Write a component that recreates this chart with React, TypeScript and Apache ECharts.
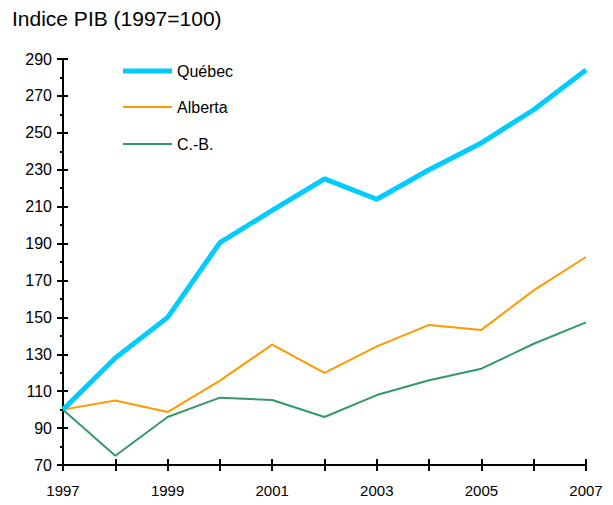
import React, { useEffect, useRef } from "react";
import * as echarts from "echarts";

const years = ["1997", "1998", "1999", "2000", "2001", "2002", "2003", "2004", "2005", "2006", "2007"];
const quebec = [100, 128, 150, 190.5, 208, 225, 214, 230, 244.5, 262.5, 284];
const alberta = [100, 105, 98.7, 115.7, 135.2, 119.9, 134.3, 145.9, 143.2, 164.6, 182.7];
const cb = [100, 75, 96, 106.5, 105.2, 96, 107.9, 115.9, 122.2, 135.7, 147.3];
const seriesNames = ["Québec", "Alberta", "C.-B."];
const titleText = "Indice PIB (1997=100)";

const FONT = "'Liberation Sans', Arial, sans-serif";

export default function App() {
  const ref = useRef<HTMLDivElement>(null);
  useEffect(() => {
    if (!ref.current) return;
    const chart = echarts.init(ref.current, null, { renderer: "svg" });
    const axisLine = { show: true, onZero: false, lineStyle: { color: "#000", width: 2 } };
    const yBase = { type: "value", min: 70, max: 290, interval: 20, position: "left", splitLine: { show: false } };
    const xBase = { type: "category", data: years, boundaryGap: false, position: "bottom", splitLine: { show: false } };
    const legendText = { fontFamily: FONT, fontSize: 16, color: "#000" };
    chart.setOption({
      animation: false,
      backgroundColor: "#fff",
      title: {
        text: titleText,
        left: 12,
        top: 8,
        padding: 0,
        textStyle: { fontFamily: FONT, fontSize: 21, fontWeight: "normal", color: "#000" },
      },
      legend: [
        {
          data: [{ name: seriesNames[0], icon: "rect" }],
          left: 123,
          top: 63,
          padding: 0,
          itemWidth: 49,
          itemHeight: 5,
          itemGap: 0,
          textStyle: legendText,
        },
        {
          data: [{ name: seriesNames[1], icon: "rect" }],
          left: 123,
          top: 99,
          padding: 0,
          itemWidth: 49,
          itemHeight: 2,
          itemGap: 0,
          textStyle: legendText,
        },
        {
          data: [{ name: seriesNames[2], icon: "rect" }],
          left: 123,
          top: 136,
          padding: 0,
          itemWidth: 49,
          itemHeight: 2,
          itemGap: 0,
          textStyle: legendText,
        },
      ],
      grid: { left: 63, right: 27, top: 59, bottom: 40, containLabel: false },
      xAxis: [
        {
          ...xBase,
          axisLine,
          axisTick: { show: true, interval: 0, length: 6, inside: false, lineStyle: { color: "#000", width: 2 } },
          axisLabel: { interval: 1, margin: 18, fontFamily: FONT, fontSize: 15, color: "#000" },
        },
        {
          ...xBase,
          axisLine,
          axisTick: { show: true, interval: 0, length: 6, inside: true, lineStyle: { color: "#000", width: 2 } },
          axisLabel: { show: false },
        },
      ],
      yAxis: [
        {
          ...yBase,
          axisLine,
          axisTick: { show: true, length: 6, inside: false, lineStyle: { color: "#000", width: 2 } },
          minorTick: { show: true, splitNumber: 2, length: 3, lineStyle: { color: "#000", width: 2 } },
          axisLabel: { margin: 11, fontFamily: FONT, fontSize: 16, color: "#000" },
        },
        {
          ...yBase,
          axisLine,
          axisTick: { show: true, length: 5, inside: true, lineStyle: { color: "#000", width: 2 } },
          minorTick: { show: true, splitNumber: 2, length: -3, lineStyle: { color: "#000", width: 2 } },
          axisLabel: { show: false },
        },
      ],
      series: [
        {
          name: seriesNames[0],
          type: "line",
          data: quebec,
          symbol: "none",
          color: "#00CCFF",
          lineStyle: { width: 5, color: "#00CCFF" },
          z: 4,
        },
        {
          name: seriesNames[1],
          type: "line",
          data: alberta,
          symbol: "none",
          color: "#FF9900",
          lineStyle: { width: 2, color: "#FF9900" },
          z: 3,
        },
        {
          name: seriesNames[2],
          type: "line",
          data: cb,
          symbol: "none",
          color: "#339966",
          lineStyle: { width: 2, color: "#339966" },
          z: 2,
        },
      ],
    });
    return () => chart.dispose();
  }, []);
  return <div ref={ref} style={{ position: "fixed", left: 0, top: 0, width: 613, height: 505 }} />;
}
